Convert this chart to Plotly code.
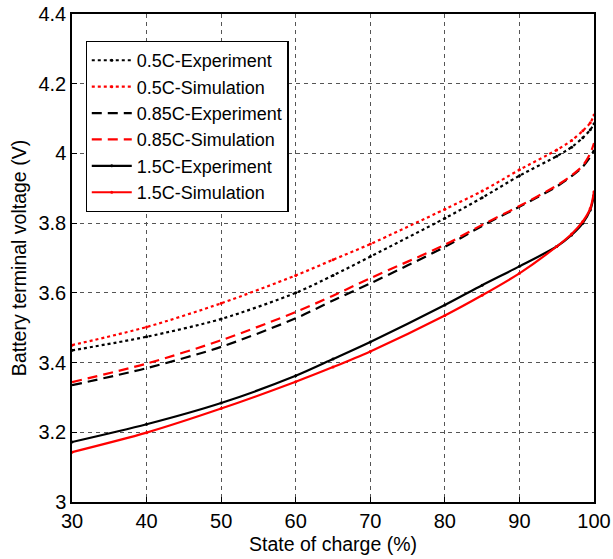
import plotly.graph_objects as go

# State of charge (%) sample points
soc = [30, 40, 50, 60, 65, 70, 80, 85, 90, 95, 97, 98.5, 99.5, 100]

# Terminal voltage (V) per discharge rate
v05_exp = [3.435, 3.474, 3.525, 3.600, 3.650, 3.704, 3.814, 3.873, 3.936, 3.992, 4.018, 4.045, 4.068, 4.085]
v05_sim = [3.450, 3.502, 3.570, 3.650, 3.695, 3.740, 3.840, 3.892, 3.953, 4.010, 4.037, 4.065, 4.088, 4.110]
v085_exp = [3.335, 3.384, 3.445, 3.527, 3.578, 3.627, 3.732, 3.792, 3.847, 3.905, 3.935, 3.962, 3.990, 4.010]
v085_sim = [3.344, 3.397, 3.464, 3.545, 3.592, 3.642, 3.738, 3.795, 3.849, 3.908, 3.937, 3.965, 4.000, 4.030]
v15_exp = [3.172, 3.223, 3.284, 3.362, 3.410, 3.459, 3.565, 3.622, 3.676, 3.733, 3.766, 3.800, 3.838, 3.880]
v15_sim = [3.143, 3.199, 3.268, 3.345, 3.387, 3.432, 3.535, 3.593, 3.656, 3.733, 3.769, 3.805, 3.842, 3.890]

x_ticks = [30, 40, 50, 60, 70, 80, 90, 100]
y_ticks = [3, 3.2, 3.4, 3.6, 3.8, 4, 4.2, 4.4]
y_labels = ["3", "3.2", "3.4", "3.6", "3.8", "4", "4.2", "4.4"]

series = [
    ("0.5C-Experiment", v05_exp, "black", "dot", True),
    ("0.5C-Simulation", v05_sim, "red", "dot", True),
    ("0.85C-Experiment", v085_exp, "black", "10px,6px", False),
    ("0.85C-Simulation", v085_sim, "red", "10px,6px", False),
    ("1.5C-Experiment", v15_exp, "black", "solid", True),
    ("1.5C-Simulation", v15_sim, "red", "solid", True),
]

fig = go.Figure()
for name, vals, color, dash, dots in series:
    fig.add_trace(go.Scatter(
        x=soc, y=vals, name=name,
        mode="lines+markers" if dots else "lines",
        line=dict(color=color, dash=dash, width=2.2, shape="spline", smoothing=0.8),
        marker=dict(color=color, size=3),
    ))

font = "Liberation Sans, Arial, sans-serif"
axis_common = dict(
    showline=True, linecolor="black", linewidth=1.5, mirror=True,
    showgrid=True, gridcolor="#555555", gridwidth=1, griddash="4px,4px",
    ticks="inside", ticklen=5, tickcolor="black",
    tickfont=dict(family=font, size=20, color="black"),
    zeroline=False, automargin=False,
)

fig.update_layout(
    width=613, height=559,
    margin=dict(l=72, r=19, t=14, b=57),
    paper_bgcolor="white", plot_bgcolor="white",
    font=dict(family=font, color="black"),
    xaxis=dict(
        range=[30, 100], tickvals=x_ticks,
        title=dict(text="State of charge (%)", font=dict(family=font, size=19.5), standoff=7),
        **axis_common,
    ),
    yaxis=dict(
        range=[3, 4.4], tickvals=y_ticks, ticktext=y_labels,
        title=dict(text="Battery terminal voltage (V)", font=dict(family=font, size=19.5), standoff=7),
        **axis_common,
    ),
    legend=dict(
        x=0.026, y=0.945, xanchor="left", yanchor="top",
        bgcolor="white", bordercolor="black", borderwidth=1.2,
        font=dict(family=font, size=18, color="black"),
        itemwidth=40, tracegroupgap=0,
    ),
)

fig.write_html("out.html")
